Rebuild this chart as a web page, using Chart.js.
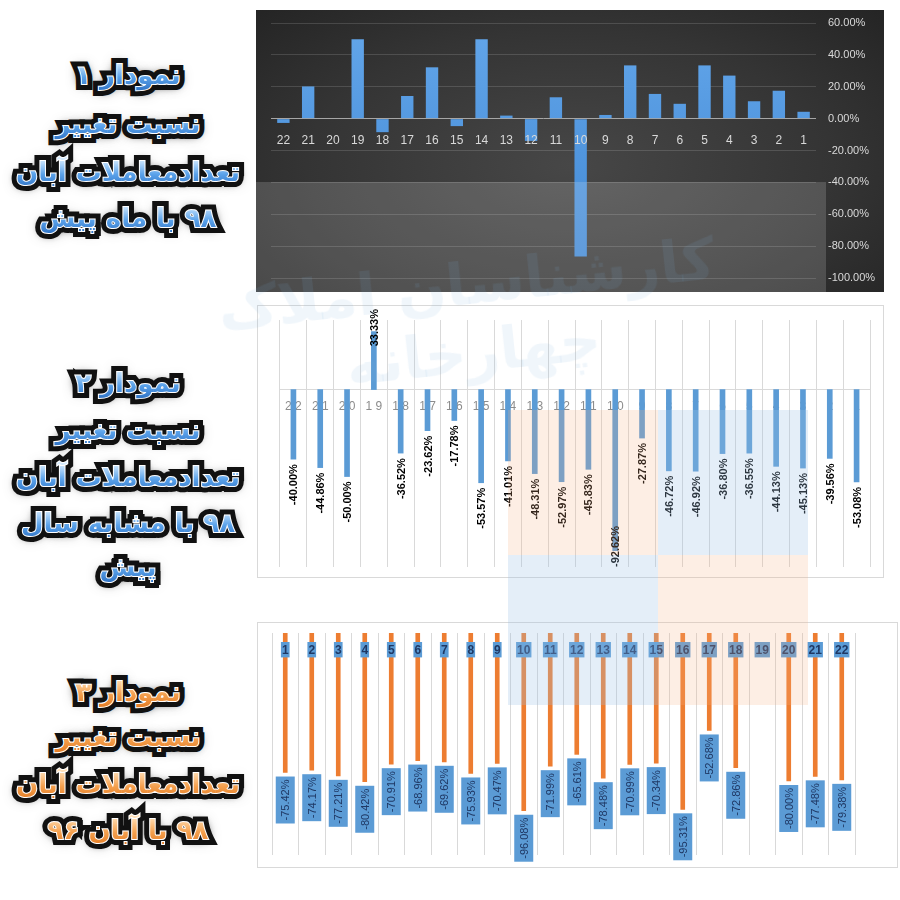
<!DOCTYPE html>
<html>
<head>
<meta charset="utf-8">
<script src="https://cdn.jsdelivr.net/npm/chart.js@4.4.0/dist/chart.umd.min.js"></script>
<style>
  html, body { margin: 0; padding: 0; background: #fff; width: 900px; height: 900px; overflow: hidden; position: relative; }
  .wrap { position: absolute; }
  #w1 { left: 256px; top: 10px; width: 628px; height: 282px;
        background: radial-gradient(ellipse 70% 80% at 50% 55%, #474747 0%, #343434 60%, #242424 100%); }
  #w2 { left: 257px; top: 305px; width: 627px; height: 273px; box-sizing: border-box; border: 1px solid #d9d9d9; }
  #w3 { left: 257px; top: 622px; width: 641px; height: 246px; box-sizing: border-box; border: 1px solid #d9d9d9; }
  canvas { position: absolute; left: 0; top: 0; }
  .shade { position: absolute; pointer-events: none; }
  .title { position: absolute; left: 0; width: 256px; direction: rtl; font-family: "DejaVu Sans", sans-serif; font-weight: bold; }
  .ln { position: absolute; left: 0; width: 256px; height: 46px; line-height: 46px; font-size: 26px; text-align: center; white-space: nowrap; }
  .ln span { position: absolute; left: 0; right: 0; top: 0; }
  .bk { color: #111; -webkit-text-stroke: 12px #111; text-shadow: 0 0 6px #000, 0 0 10px #000, 0 0 14px rgba(0,0,0,.7); }
  .md { color: #fff; -webkit-text-stroke: 2px #fff; }
  .fr { -webkit-background-clip: text; background-clip: text; color: transparent; }
  .blue .fr { background-image: linear-gradient(#d6ecff 22%, #5aa2ea 55%, #2f72c4 85%); }
  .orange .fr { background-image: linear-gradient(#ffe0b8 22%, #f4a04e 55%, #e27a22 85%); }
  #wm { position: absolute; left: 120px; top: 250px; width: 700px; text-align: center; direction: rtl;
        font-family: "DejaVu Sans", sans-serif; font-weight: bold; font-size: 58px; color: rgba(120,170,220,0.11);
        transform: rotate(-6deg); pointer-events: none; }
</style>
</head>
<body>
<div class="wrap" id="w1"><canvas id="c1" width="628" height="282"></canvas></div>
<div class="wrap" id="w2"><canvas id="c2" width="625" height="271"></canvas></div>
<div class="wrap" id="w3"><canvas id="c3" width="639" height="244"></canvas></div>

<div class="shade" style="left:256px;top:182px;width:570px;height:110px;background:rgba(255,255,255,0.16)"></div>
<div class="shade" style="left:508px;top:410px;width:150px;height:145px;background:rgba(244,177,131,0.22)"></div>
<div class="shade" style="left:658px;top:410px;width:150px;height:145px;background:rgba(157,195,230,0.28)"></div>
<div class="shade" style="left:508px;top:555px;width:150px;height:150px;background:rgba(157,195,230,0.28)"></div>
<div class="shade" style="left:658px;top:555px;width:150px;height:150px;background:rgba(244,177,131,0.22)"></div>
<div id="wm">کارشناسان املاک چهارخانه</div>

<div id="titles"></div>

<script>
// chart 1: change vs previous month (days 22 -> 1, left to right)
const chart1Labels = ['22','21','20','19','18','17','16','15','14','13','12','11','10','9','8','7','6','5','4','3','2','1'];
const chart1Values = [-2.7, 20.2, 0, 49.8, -8.5, 14.2, 32.2, -4.7, 49.8, 1.9, -14.0, 13.4, -86.5, 2.3, 33.4, 15.5, 9.3, 33.4, 27.0, 10.9, 17.5, 4.3];

// chart 2: change vs same month last year
const chart2Labels = ['22','21','20','19','18','17','16','15','14','13','12','11','10','9','8','7','6','5','4','3','2','1'];
const chart2Values = [-40.00, -44.86, -50.00, 33.33, -36.52, -23.62, -17.78, -53.57, -41.01, -48.31, -52.97, -45.83, -92.62, -27.87, -46.72, -46.92, -36.80, -36.55, -44.13, -45.13, -39.56, -53.08];

// chart 3: change vs Aban 96 (days 1 -> 22)
const chart3Labels = ['1','2','3','4','5','6','7','8','9','10','11','12','13','14','15','16','17','18','19','20','21','22'];
const chart3Values = [-75.42, -74.17, -77.21, -80.42, -70.91, -68.96, -69.62, -75.93, -70.47, -96.08, -71.99, -65.61, -78.48, -70.99, -70.34, -95.31, -52.68, -72.86, null, -80.00, -77.48, -79.38];

// side captions
const title1 = ['نمودار ۱', 'نسبت تغییر', 'تعدادمعاملات آبان', '۹۸ با ماه پیش'];
const title2 = ['نمودار ۲', 'نسبت تغییر', 'تعدادمعاملات آبان', '۹۸ با  مشابه سال', 'پیش'];
const title3 = ['نمودار ۳', 'نسبت تغییر', 'تعدادمعاملات آبان', '۹۸ با آبان ۹۶'];

const FONT = '"Liberation Sans", Arial, sans-serif';

function makeTitle(lines, centers, cls) {
    const box = document.createElement('div');
    box.className = 'title ' + cls;
    lines.forEach((txt, i) => {
        const ln = document.createElement('div');
        ln.className = 'ln';
        ln.style.top = (centers[i] - 23) + 'px';
        ['bk', 'md', 'fr'].forEach(c => {
            const s = document.createElement('span');
            s.className = c;
            s.textContent = txt;
            ln.appendChild(s);
        });
        box.appendChild(ln);
    });
    document.getElementById('titles').appendChild(box);
}
makeTitle(title1, [75, 124, 172, 218], 'blue');
makeTitle(title2, [383, 430, 477, 523, 567], 'blue');
makeTitle(title3, [692, 737, 784, 830], 'orange');

// rotated value labels under / over each bar
const barLabels = {
    id: 'barLabels',
    afterDatasetsDraw(chart, args, opts) {
        if (!opts.show) return;
        const ctx = chart.ctx;
        const meta = chart.getDatasetMeta(0);
        const values = chart.data.datasets[0].data;
        ctx.save();
        ctx.font = opts.font;
        ctx.textAlign = 'center';
        ctx.textBaseline = 'middle';
        meta.data.forEach((bar, i) => {
            const v = values[i];
            if (v === null || v === undefined) return;
            const text = v.toFixed(2) + '%';
            const w = ctx.measureText(text).width;
            const len = w + 2 * opts.padAlong;
            let start;
            if (v < 0) {
                start = bar.y + opts.gap;
                if (opts.clampBottom) start = Math.min(start, chart.chartArea.bottom - len);
            } else {
                start = Math.max(bar.y - opts.gap - len, 3);
            }
            const cy = start + len / 2;
            ctx.save();
            ctx.translate(bar.x, cy);
            ctx.rotate(-Math.PI / 2);
            if (opts.box) {
                ctx.fillStyle = opts.boxColor;
                ctx.fillRect(-len / 2, -opts.boxWidth / 2, len, opts.boxWidth);
            }
            ctx.fillStyle = opts.color;
            ctx.fillText(text, 0, 1);
            ctx.restore();
        });
        ctx.restore();
    }
};
Chart.register(barLabels);

function barGradient(context) {
    const area = context.chart.chartArea;
    if (!area) return '#4f95dc';
    const g = context.chart.ctx.createLinearGradient(0, area.top, 0, area.bottom);
    g.addColorStop(0, '#63a6ea');
    g.addColorStop(1, '#3f86d2');
    return g;
}

// chart 1
new Chart(document.getElementById('c1'), {
    type: 'bar',
    data: {
        labels: chart1Labels,
        datasets: [{ data: chart1Values, backgroundColor: barGradient, barPercentage: 0.5, categoryPercentage: 1 }]
    },
    options: {
        responsive: false,
        animation: false,
        layout: { padding: { left: 15, right: 0, top: 13, bottom: 14 } },
        plugins: { legend: { display: false }, tooltip: { enabled: false }, barLabels: { show: false } },
        scales: {
            x: {
                position: { y: 0 },
                grid: { display: false },
                border: { display: false },
                ticks: { color: '#d9d9d9', font: { size: 12, family: FONT }, padding: 7, maxRotation: 0, autoSkip: false, z: 1 }
            },
            y: {
                position: 'right',
                min: -100, max: 60,
                afterFit: s => { s.width = 68; },
                grid: { color: c => c.tick.value === 0 ? '#a6a6a6' : 'rgba(255,255,255,0.14)',
                        drawTicks: true, tickLength: 9, tickColor: 'rgba(0,0,0,0)' },
                border: { display: false },
                ticks: { stepSize: 20, color: '#d9d9d9', font: { size: 11, family: FONT }, padding: 3,
                         callback: v => v.toFixed(2) + '%' }
            }
        }
    }
});

// chart 2
new Chart(document.getElementById('c2'), {
    type: 'bar',
    data: {
        labels: chart2Labels,
        datasets: [{ data: chart2Values, backgroundColor: '#5b9bd5', barThickness: 5 }]
    },
    options: {
        responsive: false,
        animation: false,
        layout: { padding: { left: 22, right: 13, top: 14, bottom: 10 } },
        plugins: {
            legend: { display: false }, tooltip: { enabled: false },
            barLabels: { show: true, font: 'bold 11px ' + FONT, color: '#000', gap: 5, padAlong: 0, box: false, clampBottom: true }
        },
        scales: {
            x: {
                position: { y: 0 },
                grid: { color: '#d9d9d9', drawTicks: false },
                border: { display: true, color: '#d9d9d9' },
                ticks: { color: '#8c8c8c', font: { size: 12, family: FONT }, padding: 10, maxRotation: 0, autoSkip: false,
                         callback: (v, i) => chart2Labels[i].split('').join(' ') }
            },
            y: { display: false, min: -102, max: 40 }
        }
    }
});

// chart 3
new Chart(document.getElementById('c3'), {
    type: 'bar',
    data: {
        labels: chart3Labels,
        datasets: [{ data: chart3Values, backgroundColor: '#ed7d31', barThickness: 4 }]
    },
    options: {
        responsive: false,
        animation: false,
        layout: { padding: { left: 14, right: 42, top: 10, bottom: 12 } },
        plugins: {
            legend: { display: false }, tooltip: { enabled: false },
            barLabels: { show: true, font: '11px ' + FONT, color: '#1f3864', gap: 4, padAlong: 3,
                         box: true, boxColor: '#5b9bd5', boxWidth: 19, clampBottom: false }
        },
        scales: {
            x: {
                position: { y: 0 },
                grid: { color: '#d9d9d9', drawTicks: false },
                border: { display: false },
                ticks: { color: '#1f3864', font: { size: 12, weight: 'bold', family: FONT }, padding: 10,
                         maxRotation: 0, autoSkip: false, z: 1,
                         showLabelBackdrop: true, backdropColor: '#5b9bd5',
                         backdropPadding: { top: 1, bottom: 0, left: 1, right: 1 } }
            },
            y: { display: false, min: -120, max: 0 }
        }
    }
});
</script>
</body>
</html>
